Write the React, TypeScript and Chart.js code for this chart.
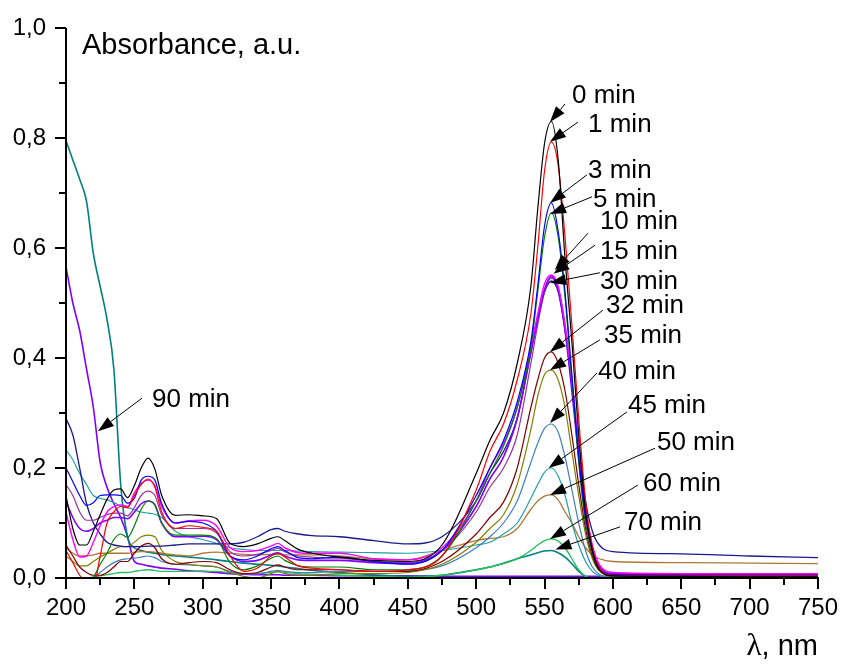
import React, { useEffect, useRef } from 'react';
import { Chart, registerables } from 'chart.js';

Chart.register(...registerables);

// Wavelength grid, nm
const WAVELENGTHS = [200, 205, 210, 215, 220, 225, 230, 235, 240, 245, 250, 255, 260, 265, 270, 280, 290, 300, 310, 320, 330, 340, 350, 355, 360, 370, 380, 400, 425, 450, 475, 500, 510, 520, 530, 540, 545, 550, 555, 560, 565, 570, 575, 580, 585, 590, 600, 650, 700, 750];

// Absorbance values (a.u.) per irradiation time
const A_0MIN = [0.15, 0.09, 0.06, 0.06, 0.085, 0.115, 0.143, 0.16, 0.162, 0.146, 0.168, 0.2, 0.218, 0.198, 0.15, 0.114, 0.115, 0.113, 0.108, 0.063, 0.057, 0.062, 0.072, 0.075, 0.068, 0.052, 0.045, 0.038, 0.032, 0.03, 0.06, 0.19, 0.25, 0.3, 0.39, 0.53, 0.67, 0.79, 0.83, 0.76, 0.58, 0.43, 0.26, 0.12, 0.05, 0.015, 0.004, 0.003, 0.002, 0.002];
const A_1MIN = [0.05, 0.028, 0.005, -0.01, -0.015, 0.04, 0.1, 0.12, 0.13, 0.128, 0.15, 0.17, 0.18, 0.165, 0.12, 0.09, 0.095, 0.092, 0.085, 0.04, 0.012, 0.018, 0.04, 0.045, 0.038, 0.022, 0.018, 0.015, 0.012, 0.015, 0.04, 0.16, 0.23, 0.28, 0.36, 0.48, 0.6, 0.74, 0.793, 0.75, 0.62, 0.46, 0.29, 0.14, 0.055, 0.018, 0.005, 0.004, 0.004, 0.004];
const A_3MIN = [0.2, 0.175, 0.15, 0.132, 0.137, 0.15, 0.151, 0.151, 0.15, 0.136, 0.145, 0.178, 0.185, 0.178, 0.135, 0.1, 0.103, 0.1, 0.085, 0.04, 0.033, 0.04, 0.053, 0.057, 0.05, 0.037, 0.035, 0.038, 0.03, 0.025, 0.05, 0.15, 0.2, 0.25, 0.32, 0.43, 0.53, 0.64, 0.682, 0.63, 0.52, 0.37, 0.22, 0.11, 0.05, 0.018, 0.006, 0.005, 0.005, 0.005];
const A_5MIN = [-0.02, -0.03, -0.03, -0.02, 0.0, 0.025, 0.045, 0.07, 0.08, 0.074, 0.095, 0.125, 0.14, 0.133, 0.1, 0.078, 0.078, 0.078, 0.072, 0.028, 0.015, 0.022, 0.036, 0.04, 0.032, 0.022, 0.02, 0.02, 0.015, 0.015, 0.04, 0.14, 0.19, 0.24, 0.31, 0.42, 0.52, 0.62, 0.664, 0.62, 0.51, 0.36, 0.21, 0.1, 0.045, 0.015, 0.004, 0.004, 0.004, 0.004];
const A_10MIN = [0.12, 0.07, 0.038, 0.04, 0.065, 0.095, 0.12, 0.13, 0.133, 0.13, 0.155, 0.172, 0.178, 0.168, 0.13, 0.1, 0.104, 0.105, 0.095, 0.055, 0.048, 0.05, 0.058, 0.063, 0.055, 0.046, 0.045, 0.045, 0.035, 0.033, 0.055, 0.14, 0.2, 0.245, 0.31, 0.42, 0.48, 0.535, 0.551, 0.53, 0.46, 0.36, 0.24, 0.13, 0.06, 0.025, 0.01, 0.008, 0.008, 0.008];
const A_15MIN = [0.14, 0.11, 0.09, 0.085, 0.09, 0.1, 0.105, 0.11, 0.11, 0.108, 0.12, 0.135, 0.14, 0.133, 0.1, 0.075, 0.075, 0.076, 0.07, 0.04, 0.03, 0.032, 0.042, 0.046, 0.04, 0.033, 0.032, 0.032, 0.028, 0.026, 0.05, 0.13, 0.18, 0.22, 0.29, 0.41, 0.47, 0.525, 0.548, 0.525, 0.45, 0.34, 0.22, 0.115, 0.05, 0.02, 0.008, 0.007, 0.007, 0.007];
const A_20MIN = [0.17, 0.15, 0.12, 0.105, 0.105, 0.11, 0.115, 0.118, 0.118, 0.113, 0.128, 0.15, 0.158, 0.15, 0.115, 0.09, 0.09, 0.09, 0.082, 0.048, 0.04, 0.043, 0.05, 0.054, 0.048, 0.04, 0.038, 0.036, 0.03, 0.028, 0.05, 0.12, 0.165, 0.2, 0.26, 0.39, 0.46, 0.52, 0.545, 0.525, 0.46, 0.35, 0.23, 0.12, 0.055, 0.022, 0.007, 0.006, 0.006, 0.006];
const A_30MIN = [0.29, 0.26, 0.2, 0.135, 0.1, 0.08, 0.065, 0.06, 0.058, 0.057, 0.057, 0.057, 0.058, 0.058, 0.058, 0.06, 0.062, 0.062, 0.062, 0.062, 0.065, 0.075, 0.088, 0.09, 0.085, 0.08, 0.077, 0.075, 0.068, 0.062, 0.075, 0.14, 0.19, 0.23, 0.29, 0.41, 0.47, 0.52, 0.54, 0.52, 0.45, 0.35, 0.24, 0.14, 0.085, 0.06, 0.048, 0.044, 0.04, 0.037];
const A_32MIN = [0.06, 0.04, 0.02, 0.01, 0.005, 0.005, 0.01, 0.02, 0.03, 0.03, 0.045, 0.058, 0.063, 0.055, 0.035, 0.025, 0.028, 0.03, 0.028, 0.015, 0.008, 0.01, 0.02, 0.024, 0.02, 0.015, 0.015, 0.015, 0.012, 0.012, 0.03, 0.08, 0.11, 0.138, 0.2, 0.31, 0.36, 0.4, 0.411, 0.39, 0.34, 0.26, 0.17, 0.09, 0.04, 0.015, 0.005, 0.004, 0.004, 0.004];
const A_35MIN = [0.04, 0.03, 0.022, 0.022, 0.03, 0.038, 0.045, 0.052, 0.057, 0.057, 0.065, 0.075, 0.078, 0.075, 0.05, 0.03, 0.025, 0.022, 0.02, 0.01, 0.003, 0.0, 0.008, 0.012, 0.008, 0.005, 0.005, 0.008, 0.008, 0.01, 0.025, 0.065, 0.09, 0.115, 0.17, 0.27, 0.33, 0.37, 0.378, 0.36, 0.31, 0.23, 0.15, 0.08, 0.035, 0.013, 0.004, 0.003, 0.003, 0.003];
const A_40MIN = [-0.02, -0.02, -0.02, -0.01, 0.0, 0.01, 0.02, 0.028, 0.033, 0.035, 0.036, 0.038, 0.04, 0.037, 0.03, 0.025, 0.024, 0.022, 0.02, 0.012, 0.008, 0.008, 0.012, 0.014, 0.012, 0.01, 0.01, 0.012, 0.012, 0.013, 0.022, 0.055, 0.075, 0.1, 0.14, 0.21, 0.245, 0.272, 0.28, 0.265, 0.22, 0.16, 0.1, 0.05, 0.02, 0.007, 0.002, 0.002, 0.002, 0.002];
const A_45MIN = [0.233, 0.215, 0.19, 0.17, 0.15, 0.145, 0.142, 0.137, 0.131, 0.128, 0.124, 0.12, 0.118, 0.116, 0.11, 0.085, 0.075, 0.07, 0.063, 0.055, 0.052, 0.05, 0.05, 0.05, 0.05, 0.049, 0.048, 0.047, 0.046, 0.045, 0.05, 0.06, 0.065, 0.08, 0.1, 0.145, 0.17, 0.192, 0.2, 0.185, 0.15, 0.1, 0.06, 0.03, 0.012, 0.004, 0.001, 0.001, 0.001, 0.001];
const A_50MIN = [0.055, 0.045, 0.04, 0.04, 0.042, 0.045, 0.045, 0.045, 0.045, 0.045, 0.047, 0.048, 0.048, 0.047, 0.045, 0.042, 0.04, 0.045, 0.047, 0.045, 0.043, 0.042, 0.043, 0.043, 0.042, 0.042, 0.042, 0.04, 0.035, 0.033, 0.05, 0.068, 0.072, 0.075, 0.09, 0.125, 0.14, 0.149, 0.151, 0.142, 0.12, 0.1, 0.075, 0.055, 0.042, 0.035, 0.03, 0.028, 0.027, 0.026];
const A_60MIN = [0.0, 0.0, 0.0, 0.0, 0.002, 0.004, 0.006, 0.008, 0.01, 0.01, 0.012, 0.014, 0.015, 0.014, 0.012, 0.012, 0.012, 0.012, 0.012, 0.01, 0.008, 0.008, 0.01, 0.011, 0.01, 0.008, 0.007, 0.005, 0.003, 0.001, 0.005, 0.015, 0.02, 0.026, 0.035, 0.05, 0.06, 0.068, 0.071, 0.067, 0.055, 0.035, 0.015, 0.003, 0.0, 0.0, 0.0, 0.0, 0.0, 0.0];
const A_70MIN = [0.795, 0.76, 0.725, 0.685, 0.59, 0.53, 0.47, 0.38, 0.17, 0.075, 0.055, 0.05, 0.047, 0.045, 0.043, 0.04, 0.038, 0.036, 0.033, 0.03, 0.027, 0.025, 0.023, 0.022, 0.02, 0.017, 0.014, 0.01, 0.006, 0.003, 0.005, 0.015, 0.02, 0.027, 0.035, 0.042, 0.046, 0.049, 0.05, 0.046, 0.038, 0.026, 0.012, 0.003, 0.0, 0.0, 0.0, 0.0, 0.0, 0.0];
const A_90MIN = [0.565, 0.5, 0.45, 0.38, 0.31, 0.21, 0.165, 0.135, 0.11, 0.075, 0.03, 0.025, 0.022, 0.02, 0.018, 0.016, 0.013, 0.012, 0.01, 0.008, 0.007, 0.006, 0.006, 0.006, 0.005, 0.005, 0.005, 0.004, 0.004, 0.004, 0.003, 0.003, 0.003, 0.003, 0.003, 0.003, 0.003, 0.003, 0.003, 0.003, 0.003, 0.003, 0.003, 0.003, 0.003, 0.003, 0.002, 0.002, 0.002, 0.002];

const SERIES_LABELS = ['0 min', '1 min', '3 min', '5 min', '10 min', '15 min', '20 min', '30 min', '32 min', '35 min', '40 min', '45 min', '50 min', '60 min', '70 min', '90 min'];
const SERIES_VALUES = [A_0MIN, A_1MIN, A_3MIN, A_5MIN, A_10MIN, A_15MIN, A_20MIN, A_30MIN, A_32MIN, A_35MIN, A_40MIN, A_45MIN, A_50MIN, A_60MIN, A_70MIN, A_90MIN];
const SERIES_COLORS = ['#000000', '#ff0000', '#0000ff', '#008000', '#ff00ff', '#8000ff', '#993399', '#1a1a8c', '#800000', '#808000', '#3f7fbf', '#20a0a8', '#b07838', '#22c05a', '#008080', '#8000ff'];
const SERIES_WIDTHS = [1.2, 1.2, 1.2, 1.2, 1.4, 1.6, 1.2, 1.3, 1.2, 1.2, 1.2, 1.2, 1.3, 1.3, 1.6, 1.6];

// Axis ticks
const X_TICKS = [200, 250, 300, 350, 400, 450, 500, 550, 600, 650, 700, 750];
const Y_TICKS = [0, 0.2, 0.4, 0.6, 0.8, 1.0];

// Annotation labels (data coordinates): text anchor, arrow start, arrow tip
const LABEL_TEXTS = ['0 min', '1 min', '3 min', '5 min', '10 min', '15 min', '30 min', '32 min', '35 min', '40 min', '45 min', '50 min', '60 min', '70 min', '90 min'];
const LABEL_POS = [
  [570.1, 0.876, 565, 0.862, 554, 0.829],
  [581.8, 0.824, 574.5, 0.829, 554, 0.793],
  [581.8, 0.74, 581, 0.733, 554, 0.682],
  [585.4, 0.687, 584.7, 0.693, 554, 0.662],
  [590.5, 0.647, 581.8, 0.627, 557.5, 0.56],
  [590.5, 0.593, 586.9, 0.605, 556.5, 0.553],
  [590.5, 0.538, 590.5, 0.555, 554, 0.537],
  [594.9, 0.495, 592.7, 0.487, 554, 0.411],
  [593.5, 0.44, 590.5, 0.433, 554, 0.378],
  [589.1, 0.375, 588.4, 0.373, 554, 0.282],
  [611, 0.313, 610.3, 0.302, 553, 0.2],
  [632.2, 0.245, 630.8, 0.236, 554, 0.151],
  [622, 0.171, 618.3, 0.169, 554, 0.071],
  [608.1, 0.1, 605.2, 0.093, 558, 0.052],
  [262.9, 0.324, 255.6, 0.327, 223.4, 0.267],
];

const SANS = '"Liberation Sans", Arial, Helvetica, sans-serif';
const SERIF = '"Liberation Serif", "Times New Roman", serif';

const overlayPlugin = {
  id: 'overlay',
  afterDraw(chart: any) {
    const { ctx, chartArea, scales } = chart;
    const xs = scales.x;
    const ys = scales.y;
    ctx.save();
    ctx.strokeStyle = '#000';
    ctx.fillStyle = '#000';
    // axis lines
    ctx.lineWidth = 2;
    ctx.beginPath();
    ctx.moveTo(chartArea.left, chartArea.top);
    ctx.lineTo(chartArea.left, chartArea.bottom);
    ctx.lineTo(chartArea.right + 1, chartArea.bottom);
    ctx.stroke();
    // ticks
    for (let v = 200; v <= 750; v += 25) {
      const px = Math.round(xs.getPixelForValue(v));
      const len = v % 50 === 0 ? 11 : 7;
      ctx.beginPath();
      ctx.moveTo(px, chartArea.bottom);
      ctx.lineTo(px, chartArea.bottom + len);
      ctx.stroke();
    }
    for (let i = 0; i <= 10; i++) {
      const py = Math.round(ys.getPixelForValue(i / 10));
      const len = i % 2 === 0 ? 11 : 7;
      ctx.beginPath();
      ctx.moveTo(chartArea.left - len, py);
      ctx.lineTo(chartArea.left, py);
      ctx.stroke();
    }
    // axis titles
    ctx.font = `29px ${SANS}`;
    ctx.textBaseline = 'alphabetic';
    ctx.textAlign = 'left';
    ctx.fillText('Absorbance, a.u.', chartArea.left + 16, chartArea.top + 26);
    const unit = ', nm';
    const unitW = ctx.measureText(unit).width;
    const rightX = chartArea.right;
    const baseY = chartArea.bottom + 77;
    ctx.fillText(unit, rightX - unitW, baseY);
    ctx.font = `31px ${SERIF}`;
    const lw = ctx.measureText('\u03bb').width;
    ctx.fillText('\u03bb', rightX - unitW - lw, baseY);

    // annotations
    ctx.lineWidth = 1;
    ctx.font = `26px ${SANS}`;
    ctx.textBaseline = 'middle';
    LABEL_TEXTS.forEach((t, i) => {
      const [tx, ty, fx, fy, ax, ay] = LABEL_POS[i];
      const tpx = xs.getPixelForValue(tx);
      const tpy = ys.getPixelForValue(ty);
      ctx.fillText(t, tpx, tpy);
      const x1 = xs.getPixelForValue(fx);
      const y1 = ys.getPixelForValue(fy);
      const x2 = xs.getPixelForValue(ax);
      const y2 = ys.getPixelForValue(ay);
      const ang = Math.atan2(y2 - y1, x2 - x1);
      const hl = 16;
      const hw = 5.5;
      const bx = x2 - hl * Math.cos(ang);
      const by = y2 - hl * Math.sin(ang);
      ctx.beginPath();
      ctx.moveTo(x1, y1);
      ctx.lineTo(bx, by);
      ctx.stroke();
      ctx.beginPath();
      ctx.moveTo(x2, y2);
      ctx.lineTo(bx + hw * Math.sin(ang), by - hw * Math.cos(ang));
      ctx.lineTo(bx - hw * Math.sin(ang), by + hw * Math.cos(ang));
      ctx.closePath();
      ctx.fill();
    });
    ctx.restore();
  },
};

export default function App() {
  const canvasRef = useRef<HTMLCanvasElement | null>(null);

  useEffect(() => {
    const canvas = canvasRef.current;
    if (!canvas) return;
    const datasets = SERIES_LABELS.map((label, i) => ({
      label,
      data: WAVELENGTHS.map((w, j) => ({ x: w, y: SERIES_VALUES[i][j] })),
      borderColor: SERIES_COLORS[i],
      backgroundColor: SERIES_COLORS[i],
      borderWidth: SERIES_WIDTHS[i],
      pointRadius: 0,
      fill: false,
      cubicInterpolationMode: 'monotone' as const,
    }));
    const chart = new Chart(canvas, {
      type: 'line',
      data: { datasets },
      options: {
        animation: false,
        responsive: false,
        maintainAspectRatio: false,
        devicePixelRatio: 1,
        layout: { padding: { left: 0, right: 25, top: 28, bottom: 0 } },
        plugins: { legend: { display: false }, tooltip: { enabled: false }, title: { display: false } },
        scales: {
          x: {
            type: 'linear',
            min: 200,
            max: 750,
            afterFit: (s: any) => { s.height = 86; },
            afterBuildTicks: (s: any) => { s.ticks = X_TICKS.map((v) => ({ value: v })); },
            ticks: {
              autoSkip: false,
              maxRotation: 0,
              padding: 5,
              color: '#000',
              font: { family: SANS, size: 24 },
              callback: (v: any) => String(v),
            },
            grid: { display: true, drawOnChartArea: false, drawTicks: true, tickLength: 11, color: 'rgba(0,0,0,0)' },
            border: { display: false },
          },
          y: {
            type: 'linear',
            min: 0,
            max: 1,
            afterFit: (s: any) => { s.width = 66; },
            afterBuildTicks: (s: any) => { s.ticks = Y_TICKS.map((v) => ({ value: v })); },
            ticks: {
              padding: 9,
              color: '#000',
              font: { family: SANS, size: 24 },
              callback: (v: any) => Number(v).toFixed(1).replace('.', ','),
            },
            grid: { display: true, drawOnChartArea: false, drawTicks: true, tickLength: 11, color: 'rgba(0,0,0,0)' },
            border: { display: false },
          },
        },
      },
      plugins: [overlayPlugin],
    });
    return () => chart.destroy();
  }, []);

  return (
    <div style={{ position: 'fixed', left: 0, top: 0, width: 843, height: 664, background: '#fff' }}>
      <canvas ref={canvasRef} width={843} height={664} style={{ display: 'block' }} />
    </div>
  );
}
